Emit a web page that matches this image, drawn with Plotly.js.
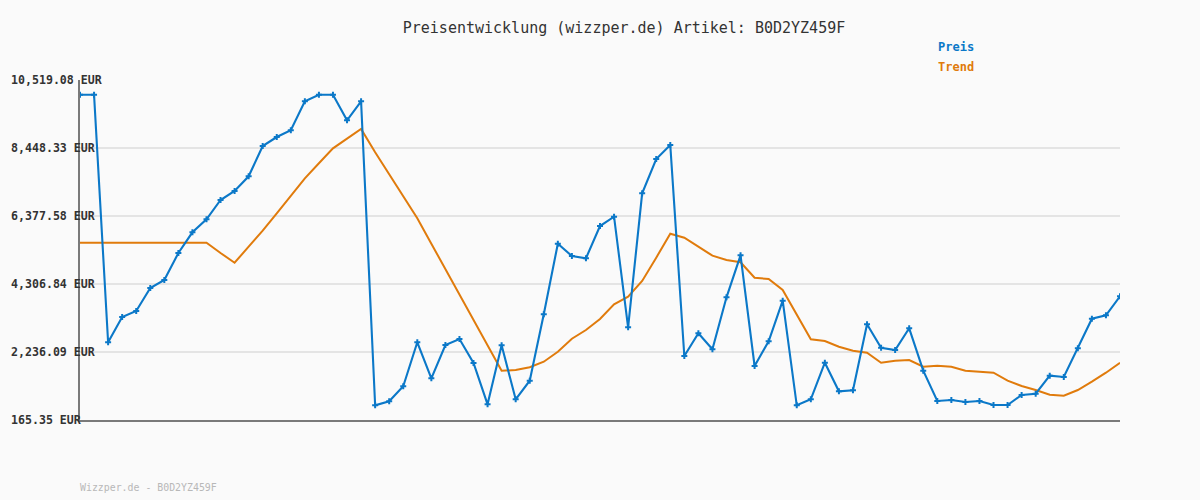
<!DOCTYPE html>
<html>
<head>
<meta charset="utf-8">
<script src="https://cdn.plot.ly/plotly-3.0.1.min.js"></script>
<style>html,body{margin:0;padding:0;background:#fafafa;}#chart{width:1200px;height:500px;}</style>
</head>
<body>
<div id="chart"></div>
<script>
const preis = [10071.4, 10071.4, 2531.5, 3301.9, 3484.6, 4185.0, 4428.6, 5250.8, 5881.2, 6277.1,
  6864.8, 7138.8, 7586.5, 8509.2, 8783.2, 8987.3, 9870.4, 10071.4, 10071.4, 9291.8,
  9870.4, 613.0, 734.8, 1191.6, 2531.5, 1435.2, 2449.3, 2632.0, 1901.1, 643.4,
  2440.1, 795.7, 1362.1, 3384.1, 5534.0, 5159.5, 5089.4, 6073.0, 6356.3, 2988.2,
  7068.8, 8113.3, 8539.6, 2114.3, 2805.5, 2318.3, 3901.8, 5180.8, 1809.8, 2561.9,
  3798.3, 613.0, 795.7, 1910.2, 1039.3, 1069.8, 3079.6, 2367.0, 2297.0, 2957.8,
  1666.6, 743.9, 774.4, 713.5, 743.9, 622.1, 622.1, 926.7, 966.2, 1514.4,
  1474.8, 2348.7, 3250.1, 3353.7, 3932.3];
const trend = [5564.5, 5564.5, 5564.5, 5564.5, 5564.5, 5564.5, 5564.5, 5564.5, 5564.5, 5564.5,
  5250.8, 4955.5, 5442.7, 5929.9, 6459.8, 6986.6, 7525.6, 7982.4, 8439.1, 8731.5,
  9026.9, 8317.4, 7656.6, 6986.6, 6307.5, 5534.0, 4763.6, 3993.2, 3210.6, 2440.1,
  1666.6, 1688.0, 1770.2, 1940.7, 2245.2, 2641.1, 2906.0, 3241.0, 3688.7, 3920.1,
  4398.2, 5107.7, 5838.6, 5716.8, 5442.7, 5168.6, 5037.7, 4967.6, 4498.7, 4459.1,
  4124.1, 3362.8, 2622.8, 2571.1, 2397.5, 2275.7, 2214.8, 1910.2, 1971.1, 1992.5,
  1788.5, 1818.9, 1788.5, 1666.6, 1636.2, 1605.7, 1362.1, 1200.7, 1078.9, 935.8,
  905.3, 1078.9, 1331.6, 1605.7, 1910.2];
const tickVals = [165.35, 2236.09, 4306.84, 6377.58, 8448.33, 10519.08];
const tickLabels = ['165.35 EUR', '2,236.09 EUR', '4,306.84 EUR', '6,377.58 EUR', '8,448.33 EUR', '10,519.08 EUR'];
const seriesNames = ['Preis', 'Trend'];
const titleText = 'Preisentwicklung (wizzper.de) Artikel: B0D2YZ459F';
const footerText = 'Wizzper.de - B0D2YZ459F';

const xs = preis.map((_, i) => i);
const mono = 'DejaVu Sans Mono, monospace';
const blue = '#0b78c8';
const orange = '#e07b0c';

const traces = [
  {x: xs, y: trend, type: 'scatter', mode: 'lines', name: seriesNames[1],
   line: {color: orange, width: 2}, hoverinfo: 'skip'},
  {x: xs, y: preis, type: 'scatter', mode: 'lines+markers', name: seriesNames[0],
   line: {color: blue, width: 2.1},
   marker: {symbol: 'cross', size: 5, color: blue, line: {width: 0}}, hoverinfo: 'skip'}
];

const annotations = tickVals.map((v, i) => ({
  xref: 'paper', yref: 'y', x: -71/1040, y: v, xanchor: 'left', yanchor: 'middle',
  text: '<b>' + tickLabels[i] + '</b>', showarrow: false,
  font: {family: mono, size: 11.6, color: '#333'}
}));
annotations.push({
  xref: 'paper', yref: 'paper', x: 856/1040, y: 1 + 33/340, xanchor: 'left', yanchor: 'middle',
  text: '<b>' + seriesNames[0] + '</b>', showarrow: false, font: {family: mono, size: 12, color: blue}
});
annotations.push({
  xref: 'paper', yref: 'paper', x: 856/1040, y: 1 + 13/340, xanchor: 'left', yanchor: 'middle',
  text: '<b>' + seriesNames[1] + '</b>', showarrow: false, font: {family: mono, size: 12, color: orange}
});
annotations.push({
  xref: 'paper', yref: 'paper', x: -2/1040, y: -67/340, xanchor: 'left', yanchor: 'middle',
  text: footerText, showarrow: false, font: {family: mono, size: 9.9, color: '#b8b8b8'}
});

const layout = {
  width: 1200, height: 500,
  paper_bgcolor: '#fafafa', plot_bgcolor: '#fafafa',
  margin: {l: 80, r: 80, t: 80, b: 80, pad: 0},
  showlegend: false,
  title: {text: titleText, x: 624/1200, xanchor: 'center', y: 1 - 28/500, yanchor: 'middle',
          font: {family: mono, size: 15, color: '#333'}},
  xaxis: {range: [0, xs.length - 1], showgrid: false, zeroline: false, showticklabels: false,
          ticks: '', showline: true, linecolor: '#7a7a7a', linewidth: 2, fixedrange: true},
  yaxis: {range: [tickVals[0], tickVals[tickVals.length - 1]], tickvals: tickVals, showticklabels: false,
          showgrid: true, gridcolor: '#e4e4e4', gridwidth: 2, zeroline: false, ticks: '',
          showline: true, linecolor: '#7a7a7a', linewidth: 2, fixedrange: true},
  annotations: annotations
};

Plotly.newPlot('chart', traces, layout, {displayModeBar: false, staticPlot: true});
</script>
</body>
</html>
